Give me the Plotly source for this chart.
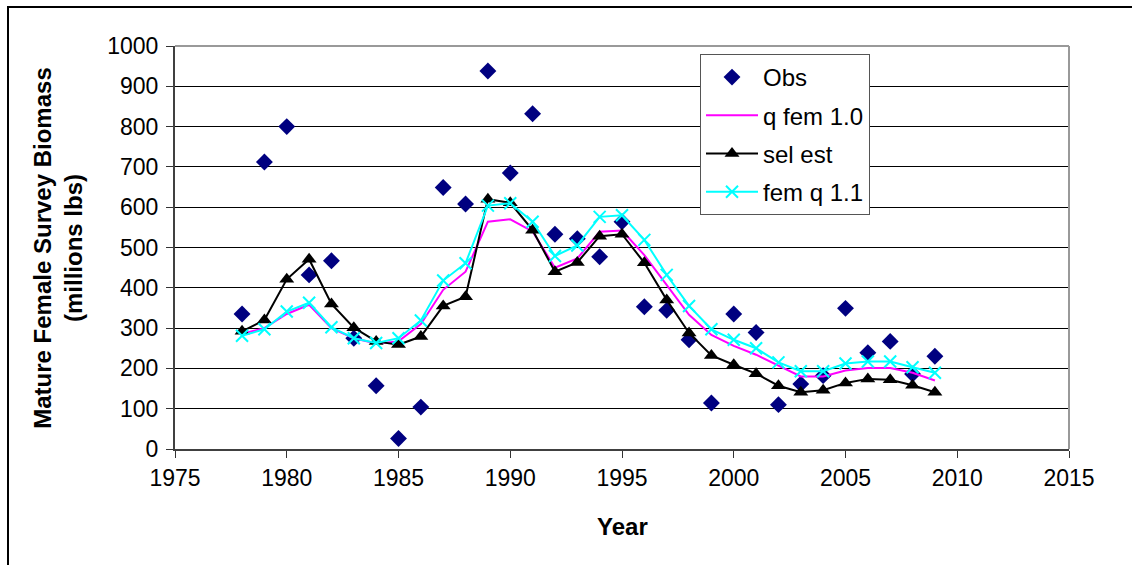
import plotly.graph_objects as go

years = list(range(1978, 2010))
obs = [335, 712, 800, 432, 467, 275, 157, 26, 104, 649, 608, 938, 685, 832, 533, 522,
       477, 564, 353, 344, 271, 114, 335, 289, 110, 161, 182, 349, 239, 267, 186, 230]
q_fem_10 = [286, 300, 335, 358, 300, 275, 262, 267, 310, 395, 440, 564, 570, 540, 450, 473,
            539, 542, 481, 407, 333, 283, 256, 234, 207, 180, 180, 195, 201, 201, 189, 170]
sel_est = [292, 320, 421, 471, 360, 301, 267, 259, 279, 355, 378, 620, 611, 543, 440, 463,
           528, 533, 462, 370, 288, 232, 209, 187, 157, 141, 146, 164, 174, 172, 158, 141]
fem_q_11 = [281, 297, 341, 363, 302, 275, 263, 275, 319, 418, 461, 604, 610, 564, 479, 505,
            576, 580, 519, 432, 355, 297, 271, 250, 215, 193, 193, 212, 217, 217, 203, 189]

x_ticks = [1975, 1980, 1985, 1990, 1995, 2000, 2005, 2010, 2015]
y_ticks = list(range(0, 1001, 100))

FONT = "Liberation Sans, Arial, sans-serif"

fig = go.Figure()
fig.add_trace(go.Scatter(x=years, y=obs, mode="markers", name="Obs", legendgroup="a",
                         marker=dict(symbol="diamond", size=13, color="#000080")))
fig.add_trace(go.Scatter(x=years, y=q_fem_10, mode="lines", name="q fem 1.0", legendgroup="b",
                         line=dict(color="#FF00FF", width=2)))
fig.add_trace(go.Scatter(x=years, y=sel_est, mode="lines+markers", name="sel est", legendgroup="c",
                         line=dict(color="#000000", width=2),
                         marker=dict(symbol="triangle-up", size=13, color="#000000")))
fig.add_trace(go.Scatter(x=years, y=fem_q_11, mode="lines+markers", name="fem q 1.1", legendgroup="d",
                         line=dict(color="#00FFFF", width=2),
                         marker=dict(symbol="x-thin", size=12, color="#00FFFF",
                                     line=dict(color="#00FFFF", width=2))))

L, R, T, B = 175, 63, 46, 115.5
W, H = 1132, 565
pw, ph = W - L - R, H - T - B
y_axis_px = H - B  # pixel row of the x axis

fig.update_layout(
    width=W, height=H,
    margin=dict(l=L, r=R, t=T, b=B),
    paper_bgcolor="white", plot_bgcolor="white",
    font=dict(family=FONT, size=23, color="black"),
    showlegend=True,
    legend=dict(x=(700 - L) / pw, y=1 - (54 - T) / ph, xanchor="left", yanchor="top",
                bordercolor="#555555", borderwidth=1, bgcolor="white",
                font=dict(size=24, family=FONT), tracegroupgap=4, traceorder="grouped",
                itemwidth=52),
    xaxis=dict(range=[1975, 2015], tickvals=x_ticks, ticks="outside", ticklen=7,
               tickcolor="#333333", showgrid=False, zeroline=False,
               showline=True, linecolor="#404040", linewidth=2,
               tickfont=dict(size=23, family=FONT)),
    yaxis=dict(range=[0, 1000], tickvals=y_ticks, ticks="outside", ticklen=7,
               tickcolor="#333333", showgrid=True, gridcolor="#000000", gridwidth=1,
               zeroline=False, showline=True, linecolor="#404040", linewidth=2,
               ticklabelstandoff=3,
               tickfont=dict(size=23, family=FONT)),
    shapes=[
        dict(type="line", xref="paper", yref="paper", x0=0, x1=1, y0=1, y1=1,
             line=dict(color="#999999", width=2)),
        dict(type="line", xref="paper", yref="paper", x0=1, x1=1, y0=0, y1=1,
             line=dict(color="#999999", width=2)),
        dict(type="rect", xref="paper", yref="paper",
             x0=(8 - L) / pw, x1=(1140 - L) / pw,
             y0=-(580 - y_axis_px) / ph, y1=1 + (T - 7) / ph,
             line=dict(color="black", width=2), layer="below"),
    ],
    annotations=[
        dict(text="<b>Year</b>", xref="paper", yref="paper", x=(622 - L) / pw,
             y=1 - (527 - T) / ph, showarrow=False, font=dict(size=24, family=FONT),
             xanchor="center", yanchor="middle"),
        dict(text="<b>Mature Female Survey Biomass</b><br><b>(millions lbs)</b>", xref="paper",
             yref="paper", x=(58 - L) / pw, y=1 - (248 - T) / ph, showarrow=False,
             textangle=-90, font=dict(size=24, family=FONT), xanchor="center",
             yanchor="middle"),
    ],
)

fig.write_html("out.html", config={"displayModeBar": False},
               post_script="document.body.style.margin='0';document.body.style.padding='0';")
